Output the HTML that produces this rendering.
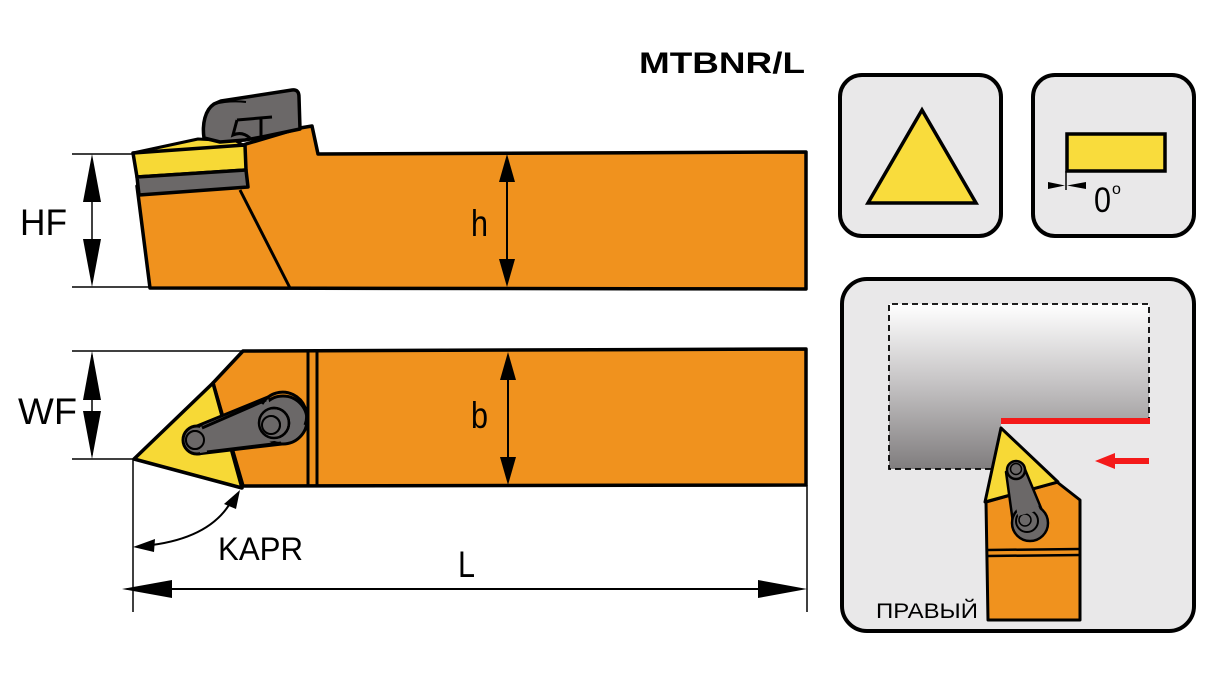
<!DOCTYPE html>
<html><head><meta charset="utf-8"><style>
html,body{margin:0;padding:0;background:#fff;}
svg{display:block;}
text{font-family:"Liberation Sans","DejaVu Sans",sans-serif;}
</style></head><body>
<svg width="1226" height="678" viewBox="0 0 1226 678" xmlns="http://www.w3.org/2000/svg">
<defs>
<linearGradient id="g1" x1="0" y1="0" x2="0" y2="1">
<stop offset="0" stop-color="#ffffff"/>
<stop offset="0.45" stop-color="#c9c7c8"/>
<stop offset="1" stop-color="#807d7e"/>
</linearGradient>
</defs>

<!-- Title -->
<text x="639" y="73" font-size="30" font-weight="bold" textLength="166" lengthAdjust="spacingAndGlyphs" fill="#000">MTBNR/L</text>

<!-- ===== SIDE VIEW ===== -->
<!-- orange body -->
<polygon points="137,186 150,288 806,289 806,152 318,154 312,126 300,128 246,144" fill="#f0921e" stroke="#000" stroke-width="3.5" stroke-linejoin="round"/>
<line x1="240" y1="190" x2="290" y2="288" stroke="#000" stroke-width="3"/>
<!-- yellow wedge above insert -->
<polygon points="133,153 198,139 236,141 245,146" fill="#f7d936" stroke="#000" stroke-width="3" stroke-linejoin="round"/>
<!-- insert -->
<polygon points="133,153 245,145 246,170 137,177" fill="#f7d936" stroke="#000" stroke-width="3.5" stroke-linejoin="round"/>
<!-- shim -->
<polygon points="137,177 246,170 248,187 139,195" fill="#6b6868" stroke="#000" stroke-width="3.5" stroke-linejoin="round"/>
<!-- clamp -->
<path d="M204,138 C202,124 205,110 214,104 L221,101 L292,90 Q299,89 299,97 L300,129 L262,137 L245,140 L220,142 Z" fill="#6b6868" stroke="#000" stroke-width="3.5" stroke-linejoin="round"/>
<path d="M237,120 L272,117 M261,119 L261,137 M237,120 L233,135 Q242,131 250,138" fill="none" stroke="#000" stroke-width="3"/>
<path d="M214,104 Q230,100 246,102" fill="none" stroke="#000" stroke-width="2"/>

<!-- HF dimension -->
<line x1="72" y1="154" x2="134" y2="154" stroke="#000" stroke-width="1.5"/>
<line x1="72" y1="287" x2="150" y2="287" stroke="#000" stroke-width="1.5"/>
<line x1="92" y1="160" x2="92" y2="282" stroke="#000" stroke-width="1.5"/>
<polygon points="92,154 83,202 101,202" fill="#000"/>
<polygon points="92,287 83,239 101,239" fill="#000"/>
<text x="20" y="235" font-size="37" fill="#000" textLength="47" lengthAdjust="spacingAndGlyphs">HF</text>

<!-- h dimension -->
<line x1="507" y1="160" x2="507" y2="282" stroke="#000" stroke-width="2"/>
<polygon points="507,154 499,182 515,182" fill="#000"/>
<polygon points="507,287 499,259 515,259" fill="#000"/>
<text x="471" y="236" font-size="37" fill="#000" textLength="17" lengthAdjust="spacingAndGlyphs">h</text>

<!-- ===== TOP VIEW ===== -->
<polygon points="243,351 806,349 806,485 243,486 213,383" fill="#f0921e" stroke="#000" stroke-width="3.5" stroke-linejoin="round"/>
<line x1="308" y1="352" x2="308" y2="485" stroke="#000" stroke-width="3"/>
<line x1="317" y1="352" x2="317" y2="485" stroke="#000" stroke-width="3"/>
<polygon points="134,459 213,383 242,488" fill="#f7d936" stroke="#000" stroke-width="3.5" stroke-linejoin="round"/>
<!-- clamp -->
<polygon points="197,426 268,397 282,444 197,454" fill="#6b6868" stroke="#000" stroke-width="3" stroke-linejoin="round"/>
<circle cx="283" cy="420" r="24" fill="#6b6868" stroke="#000" stroke-width="3"/>
<circle cx="274" cy="423" r="15" fill="#6b6868" stroke="#000" stroke-width="2.5"/>
<circle cx="271" cy="425" r="9" fill="#6b6868" stroke="#000" stroke-width="2"/>
<circle cx="197" cy="440" r="14" fill="#6b6868" stroke="#000" stroke-width="3"/>
<circle cx="195" cy="440" r="9" fill="#6b6868" stroke="#000" stroke-width="2"/>
<polygon points="200,427 268,398 280,440 200,453" fill="#6b6868"/>
<circle cx="283" cy="420" r="22.5" fill="none" stroke="#000" stroke-width="0"/>
<path d="M262,404 A24,24 0 0 1 305,425" fill="none" stroke="#000" stroke-width="3"/>
<circle cx="274" cy="423" r="15" fill="none" stroke="#000" stroke-width="2.5"/>
<circle cx="271" cy="425" r="9" fill="none" stroke="#000" stroke-width="2"/>
<path d="M202,428 L266,400 M207,452 L281,443" stroke="#000" stroke-width="3" fill="none"/>
<circle cx="195" cy="440" r="9" fill="#6b6868" stroke="#000" stroke-width="2"/>

<!-- WF dimension -->
<line x1="72" y1="351" x2="243" y2="351" stroke="#000" stroke-width="1.5"/>
<line x1="72" y1="459" x2="134" y2="459" stroke="#000" stroke-width="1.5"/>
<line x1="92" y1="355" x2="92" y2="455" stroke="#000" stroke-width="1.5"/>
<polygon points="92,351 83,400 101,400" fill="#000"/>
<polygon points="92,459 83,411 101,411" fill="#000"/>
<text x="18" y="424" font-size="37" fill="#000" textLength="59" lengthAdjust="spacingAndGlyphs">WF</text>

<!-- b dimension -->
<line x1="508" y1="358" x2="508" y2="480" stroke="#000" stroke-width="2"/>
<polygon points="508,352 500,380 516,380" fill="#000"/>
<polygon points="508,485 500,457 516,457" fill="#000"/>
<text x="471" y="428" font-size="37" fill="#000" textLength="17" lengthAdjust="spacingAndGlyphs">b</text>

<!-- KAPR -->
<path d="M232,500 Q212,537 152,545" fill="none" stroke="#000" stroke-width="2"/>
<polygon points="240,490 224,504 236,509" fill="#000"/>
<polygon points="133,547 155,539 154,552" fill="#000"/>
<text x="218" y="560" font-size="32" fill="#000" textLength="85" lengthAdjust="spacingAndGlyphs">KAPR</text>

<!-- L dimension -->
<line x1="133" y1="459" x2="133" y2="612" stroke="#000" stroke-width="1.5"/>
<line x1="807" y1="485" x2="807" y2="612" stroke="#000" stroke-width="1.5"/>
<line x1="160" y1="589" x2="780" y2="589" stroke="#000" stroke-width="2"/>
<polygon points="122,589 172,580 172,598" fill="#000"/>
<polygon points="807,589 758,580 758,598" fill="#000"/>
<text x="458" y="577" font-size="37" fill="#000" textLength="17" lengthAdjust="spacingAndGlyphs">L</text>

<!-- ===== PANELS ===== -->
<rect x="840" y="75" width="161" height="161" rx="22" fill="#e9e8e9" stroke="#000" stroke-width="4"/>
<polygon points="922,110 868,203 976,203" fill="#f9dc3c" stroke="#000" stroke-width="3.5" stroke-linejoin="miter"/>

<rect x="1033" y="75" width="161" height="161" rx="22" fill="#e9e8e9" stroke="#000" stroke-width="4"/>
<rect x="1067" y="134" width="98" height="37" fill="#f9dc3c" stroke="#000" stroke-width="3.5"/>
<line x1="1066" y1="171" x2="1066" y2="190" stroke="#000" stroke-width="1.5"/>
<polygon points="1048,182 1048,189 1065,185.5" fill="#000"/>
<polygon points="1086,182 1086,189 1067,185.5" fill="#000"/>
<text x="1094" y="212" font-size="35" fill="#000" textLength="17" lengthAdjust="spacingAndGlyphs">0</text>
<text x="1112" y="194" font-size="16" fill="#000">o</text>

<rect x="842" y="279" width="352" height="352" rx="25" fill="#e9e8e9" stroke="#000" stroke-width="4"/>
<rect x="889" y="304" width="260" height="165" fill="url(#g1)"/>
<rect x="1001" y="424" width="152" height="50" fill="#e9e8e9"/>
<path d="M1001,469 H889 V304 H1149 V420" fill="none" stroke="#000" stroke-width="1.8" stroke-dasharray="6,4"/>
<rect x="1001" y="418" width="149" height="6" fill="#f41a1a"/>
<line x1="1149" y1="461" x2="1110" y2="461" stroke="#f41a1a" stroke-width="6"/>
<polygon points="1095,461 1115,453 1115,469" fill="#f41a1a"/>

<!-- tool in panel -->
<polygon points="986,502 1057,482 1080,500 1080,620 988,620" fill="#f0921e" stroke="#000" stroke-width="3" stroke-linejoin="round"/>
<line x1="988" y1="550" x2="1080" y2="549" stroke="#000" stroke-width="2.5"/>
<line x1="988" y1="556" x2="1080" y2="555" stroke="#000" stroke-width="2.5"/>
<polygon points="1001,428 985,502 1058,482" fill="#f7d936" stroke="#000" stroke-width="3" stroke-linejoin="round"/>
<polygon points="1006,472 1024,467 1046,520 1014,530" fill="#6b6868" stroke="#000" stroke-width="2.5" stroke-linejoin="round"/>
<circle cx="1030" cy="523" r="18" fill="#6b6868" stroke="#000" stroke-width="2.5"/>
<circle cx="1027" cy="521" r="11" fill="#6b6868" stroke="#000" stroke-width="2"/>
<circle cx="1025" cy="520" r="6" fill="#6b6868" stroke="#000" stroke-width="1.5"/>
<polygon points="1008,474 1023,469 1040,510 1018,516" fill="#6b6868"/>
<circle cx="1016" cy="470" r="9" fill="#6b6868" stroke="#000" stroke-width="2.5"/>
<circle cx="1016" cy="469" r="5.5" fill="#6b6868" stroke="#000" stroke-width="1.5"/>

<text x="876" y="618" font-size="21" fill="#000" textLength="102" lengthAdjust="spacingAndGlyphs">ПРАВЫЙ</text>
</svg>
</body></html>
